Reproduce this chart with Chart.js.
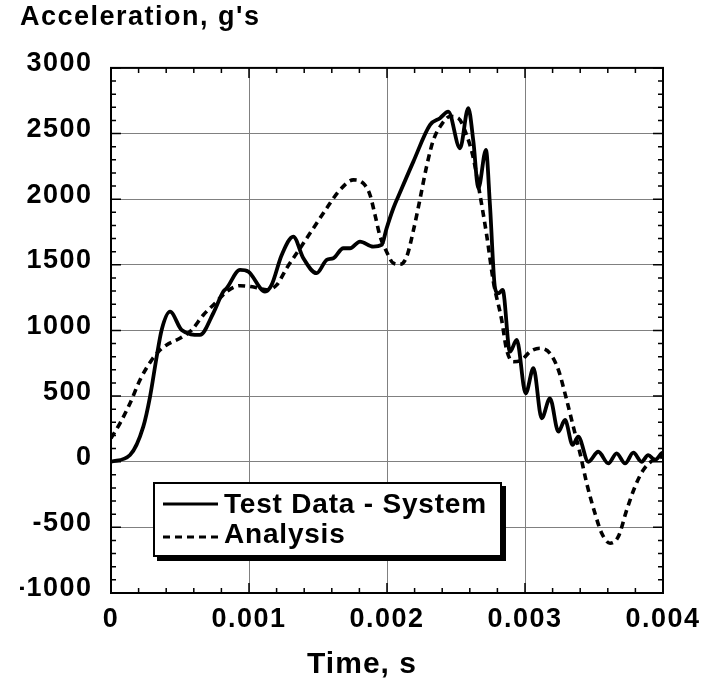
<!DOCTYPE html>
<html>
<head>
<meta charset="utf-8">
<script src="https://cdn.jsdelivr.net/npm/chart.js@4.4.0/dist/chart.umd.min.js"></script>
<style>
html,body{margin:0;padding:0;background:#fff;}
#wrap{width:702px;height:682px;}
</style>
</head>
<body>
<div id="wrap"><canvas id="c" width="702" height="682"></canvas></div>
<script>
// ---- data (time in seconds, acceleration in g's) ----
const testTime = [0, 0.000138, 0.000234, 0.000283, 0.000331, 0.000367, 0.000428, 0.000512, 0.000645, 0.000741,
  0.000814, 0.000838, 0.000935, 0.000995, 0.001116, 0.001164, 0.001237, 0.001321, 0.001394, 0.00149,
  0.001563, 0.001611, 0.001684, 0.001732, 0.001804, 0.0019, 0.001961, 0.001997, 0.002046, 0.002094,
  0.002191, 0.002312, 0.002384, 0.002444, 0.002529, 0.002589, 0.002626, 0.002662, 0.002717, 0.002746,
  0.002783, 0.002807, 0.002838, 0.002891, 0.00294, 0.003005, 0.003061, 0.003121, 0.003181, 0.003242,
  0.00329, 0.003345, 0.003386, 0.003459, 0.003531, 0.003604, 0.003664, 0.003725, 0.003785, 0.003845,
  0.003893, 0.003942, 0.00399, 0.004];
const testAccel = [0, 51, 267, 496, 800, 1004, 1143, 1004, 966, 1131,
  1296, 1321, 1461, 1448, 1296, 1347, 1575, 1715, 1550, 1436,
  1537, 1550, 1626, 1626, 1677, 1638, 1651, 1778, 1931, 2050,
  2286, 2566, 2617, 2667, 2388, 2693, 2439, 2083, 2375, 1956,
  1321, 1283, 1308, 838, 928, 521, 712, 331, 483, 229,
  318, 128, 191, 0, 76, -13, 64, -13, 69, 0,
  51, 13, 64, 70];

const analysisTime = [0, 0.000065, 0.000138, 0.00021, 0.000295, 0.000343, 0.000403, 0.0005, 0.000585, 0.000669,
  0.000754, 0.000838, 0.000935, 0.001056, 0.001128, 0.001201, 0.001273, 0.00137, 0.001466, 0.001563,
  0.001659, 0.001756, 0.001828, 0.001877, 0.001913, 0.001949, 0.001997, 0.002046, 0.002094, 0.002142,
  0.002191, 0.002239, 0.002287, 0.002336, 0.002396, 0.002457, 0.002517, 0.002577, 0.002626, 0.002674,
  0.002722, 0.002771, 0.002831, 0.002867, 0.002915, 0.002976, 0.003036, 0.003109, 0.003181, 0.003242,
  0.003302, 0.00335, 0.003399, 0.003447, 0.003507, 0.003556, 0.003616, 0.003676, 0.003737, 0.003797,
  0.003857, 0.003929, 0.004];
const analysisAccel = [179, 293, 445, 623, 775, 838, 890, 941, 1004, 1118,
  1207, 1296, 1341, 1326, 1309, 1347, 1474, 1626, 1778, 1931,
  2071, 2147, 2121, 2032, 1880, 1720, 1600, 1512, 1504, 1560,
  1760, 2000, 2250, 2450, 2570, 2630, 2617, 2489, 2312, 2032,
  1728, 1372, 1080, 852, 762, 775, 838, 864, 826, 699,
  470, 267, 64, -164, -393, -545, -621, -571, -368, -190,
  -63, 13, 38];

const seriesLabels = ['Test Data - System', 'Analysis'];
const xTickValues = [0, 0.001, 0.002, 0.003, 0.004];
const xTickLabels = ['0', '0.001', '0.002', '0.003', '0.004'];
const yTickValues = [-1000, -500, 0, 500, 1000, 1500, 2000, 2500, 3000];
const yTickLabels = ['-1000', '-500', '0', '500', '1000', '1500', '2000', '2500', '3000'];
const xMinorStep = 0.0002;
const yMinorStep = 100;
const yTitleText = "Acceleration, g's";
const xTitleText = 'Time, s';

// ---- styling ----
const FAMILY = '"Liberation Sans", Arial, Helvetica, sans-serif';
Chart.defaults.color = '#000';
Chart.defaults.font.family = FAMILY;

const toPoints = (xs, ys) => xs.map((t, i) => ({x: t, y: ys[i]}));

const framePlugin = {
  id: 'frame',
  beforeDraw(chart) { chart.ctx.letterSpacing = '1.5px'; },
  afterDatasetsDraw(chart) {
    const {ctx, chartArea: a, scales: {x, y}} = chart;
    ctx.save();
    ctx.letterSpacing = '0px';
    ctx.strokeStyle = '#000';
    ctx.lineWidth = 1.5;
    ctx.setLineDash([]);
    const xMin = x.min, xMax = x.max, yMin = y.min, yMax = y.max;
    const nx = Math.round((xMax - xMin) / xMinorStep);
    for (let i = 0; i <= nx; i++) {
      const px = x.getPixelForValue(xMin + i * xMinorStep);
      const len = (i % 5 === 0) ? 10 : 5;
      ctx.beginPath();
      ctx.moveTo(px, a.bottom); ctx.lineTo(px, a.bottom - len);
      ctx.moveTo(px, a.top); ctx.lineTo(px, a.top + len);
      ctx.stroke();
    }
    const ny = Math.round((yMax - yMin) / yMinorStep);
    for (let j = 0; j <= ny; j++) {
      const py = y.getPixelForValue(yMin + j * yMinorStep);
      const len = (j % 5 === 0) ? 10 : 5;
      ctx.beginPath();
      ctx.moveTo(a.left, py); ctx.lineTo(a.left + len, py);
      ctx.moveTo(a.right, py); ctx.lineTo(a.right - len, py);
      ctx.stroke();
    }
    ctx.lineWidth = 2;
    ctx.strokeRect(a.left, a.top, a.right - a.left, a.bottom - a.top);
    ctx.restore();
  },
  afterDraw(chart) {
    const {ctx} = chart;
    ctx.save();
    // x-axis title
    ctx.letterSpacing = '1px';
    ctx.fillStyle = '#000';
    ctx.font = 'bold 30px ' + FAMILY;
    ctx.textAlign = 'center';
    ctx.textBaseline = 'alphabetic';
    ctx.fillText(chart.options.scales.x.title.text, 362, 673);
    // legend box
    const L = {x: 154, y: 483, w: 347, h: 73};
    ctx.fillStyle = '#000';
    ctx.fillRect(L.x + 3, L.y + 3, L.w + 2, L.h + 2);
    ctx.fillStyle = '#fff';
    ctx.fillRect(L.x, L.y, L.w, L.h);
    ctx.strokeStyle = '#000';
    ctx.lineWidth = 2;
    ctx.strokeRect(L.x, L.y, L.w, L.h);
    chart.data.datasets.forEach((ds, i) => {
      const ly = L.y + 21 + i * 33;
      ctx.setLineDash(ds.borderDash || []);
      ctx.lineWidth = 3;
      ctx.beginPath();
      ctx.moveTo(L.x + 9, ly);
      ctx.lineTo(L.x + 64, ly);
      ctx.stroke();
      ctx.setLineDash([]);
      ctx.fillStyle = '#000';
      ctx.font = 'bold 28px ' + FAMILY;
      ctx.letterSpacing = '0.8px';
      ctx.textAlign = 'left';
      ctx.fillText(ds.label, L.x + 70, L.y + 30 + i * 30);
    });
    ctx.restore();
    ctx.letterSpacing = '0px';
  }
};

new Chart(document.getElementById('c'), {
  type: 'line',
  data: {
    datasets: [
      {
        label: seriesLabels[0],
        data: toPoints(testTime, testAccel),
        borderColor: '#000',
        borderWidth: 3.8,
        pointRadius: 0,
        fill: false,
        cubicInterpolationMode: 'monotone'
      },
      {
        label: seriesLabels[1],
        data: toPoints(analysisTime, analysisAccel),
        borderColor: '#000',
        borderWidth: 3.6,
        borderDash: [7, 5],
        pointRadius: 0,
        fill: false,
        cubicInterpolationMode: 'monotone'
      }
    ]
  },
  options: {
    responsive: false,
    animation: false,
    devicePixelRatio: 1,
    layout: {padding: {left: 20, right: 39, top: 0, bottom: 0}},
    plugins: {
      legend: {display: false},
      tooltip: {enabled: false},
      title: {
        display: true,
        text: yTitleText,
        align: 'start',
        color: '#000',
        font: {family: FAMILY, size: 27, weight: 'bold'},
        padding: {top: 1.5, bottom: 34}
      }
    },
    scales: {
      x: {
        type: 'linear',
        min: 0,
        max: 0.004,
        afterBuildTicks: (s) => { s.ticks = xTickValues.map(v => ({value: v})); },
        afterFit: (s) => { s.height = 89; s.paddingLeft = 0; s.paddingRight = 0; },
        ticks: {
          padding: 10,
          color: '#000',
          font: {family: FAMILY, size: 27, weight: 'bold'},
          callback: (v, i) => xTickLabels[i],
          maxRotation: 0,
          autoSkip: false
        },
        grid: {color: '#808080', lineWidth: 1, drawTicks: false},
        border: {display: false},
        title: {display: false, text: xTitleText}
      },
      y: {
        type: 'linear',
        min: -1000,
        max: 3000,
        afterBuildTicks: (s) => { s.ticks = yTickValues.map(v => ({value: v})); },
        afterFit: (s) => { s.width = 91; s.paddingTop = 0; s.paddingBottom = 0; },
        ticks: {
          padding: 18.5,
          labelOffset: -4,
          color: '#000',
          font: {family: FAMILY, size: 27, weight: 'bold'},
          callback: (v, i) => yTickLabels[i],
          autoSkip: false
        },
        grid: {color: '#808080', lineWidth: 1, drawTicks: false},
        border: {display: false}
      }
    }
  },
  plugins: [framePlugin]
});
</script>
</body>
</html>
